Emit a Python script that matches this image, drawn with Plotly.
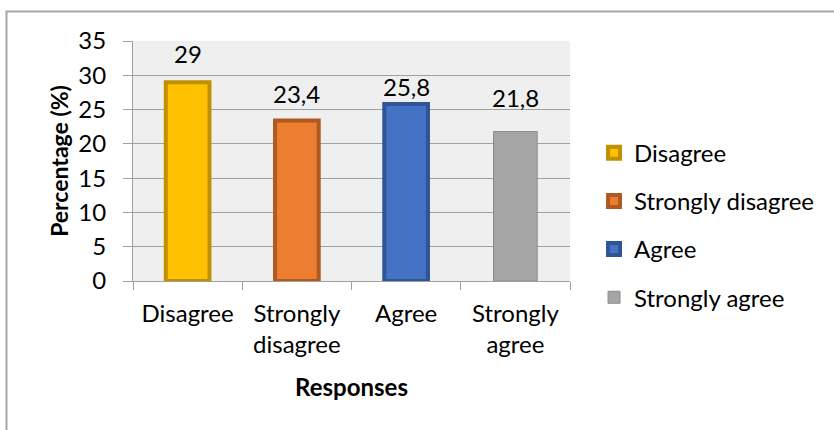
import plotly.graph_objects as go

# Survey responses
categories = ["Disagree", "Strongly disagree", "Agree", "Strongly agree"]
tick_labels = ["Disagree", "Strongly<br>disagree", "Agree", "Strongly<br>agree"]
percentages = [29, 23.4, 25.8, 21.8]
fill_colors = ["#FFC000", "#ED7D31", "#4472C4", "#A5A5A5"]
edge_colors = ["#BF9000", "#AE5A21", "#2F5597", "#8C8C8C"]
edge_widths = [4, 4, 4, 1]
label_lift = [12, 11, 1, 18]  # pixel gap of each value label above its bar

FONT = "Lato"

fig = go.Figure()
for i, (cat, val) in enumerate(zip(categories, percentages)):
    fig.add_trace(go.Bar(
        x=[cat], y=[val], name=cat, width=0.40,
        marker=dict(color=fill_colors[i],
                    line=dict(color=edge_colors[i], width=edge_widths[i])),
        legendgroup=cat,
        hoverinfo="skip",
    ))
    # value label above each bar
    fig.add_annotation(
        x=cat, y=val, text=f"{val:g}".replace(".", ","),
        showarrow=False, yanchor="bottom", yshift=label_lift[i],
        font=dict(family=FONT, size=24, color="#000000"),
    )

# chart-area frame
fig.add_shape(type="rect", xref="paper", yref="paper",
              x0=-0.2895, x1=2.0, y0=-2.0, y1=1.1229,
              line=dict(color="#A6A6A6", width=2), fillcolor="rgba(0,0,0,0)",
              layer="below")

fig.update_layout(
    width=834, height=430,
    margin=dict(l=133, r=264, t=41, b=149),
    paper_bgcolor="#FFFFFF",
    plot_bgcolor="#EFEFEF",
    barmode="overlay",
    font=dict(family=FONT, size=24, color="#000000"),
    showlegend=True,
    legend=dict(
        x=1.055, xanchor="left", y=0.233, yanchor="middle",
        font=dict(family=FONT, size=24, color="#000000"),
        traceorder="grouped", tracegroupgap=14,
        bgcolor="rgba(0,0,0,0)",
    ),
    xaxis=dict(
        categoryorder="array", categoryarray=categories,
        tickmode="array", tickvals=categories, ticktext=tick_labels,
        tickson="boundaries", ticks="outside", ticklen=8,
        tickcolor="#A0A0A0", showline=True, linecolor="#A0A0A0", linewidth=1,
        showgrid=False, ticklabelstandoff=11,
        tickfont=dict(family=FONT, size=24, color="#000000"),
        title=dict(text="<b>Responses</b>", standoff=22,
                   font=dict(family=FONT, size=24, color="#000000")),
    ),
    yaxis=dict(
        range=[0, 35], dtick=5, tick0=0,
        ticks="outside", ticklen=9, tickcolor="#A0A0A0",
        showline=True, linecolor="#A0A0A0", linewidth=1,
        showgrid=True, gridcolor="#A0A0A0", gridwidth=1,
        zeroline=False, ticklabelstandoff=12,
        tickfont=dict(family=FONT, size=24, color="#000000"),
        title=dict(text="<b>Percentage (%)</b>", standoff=3,
                   font=dict(family=FONT, size=23, color="#000000")),
    ),
)

fig.write_html("out.html")
